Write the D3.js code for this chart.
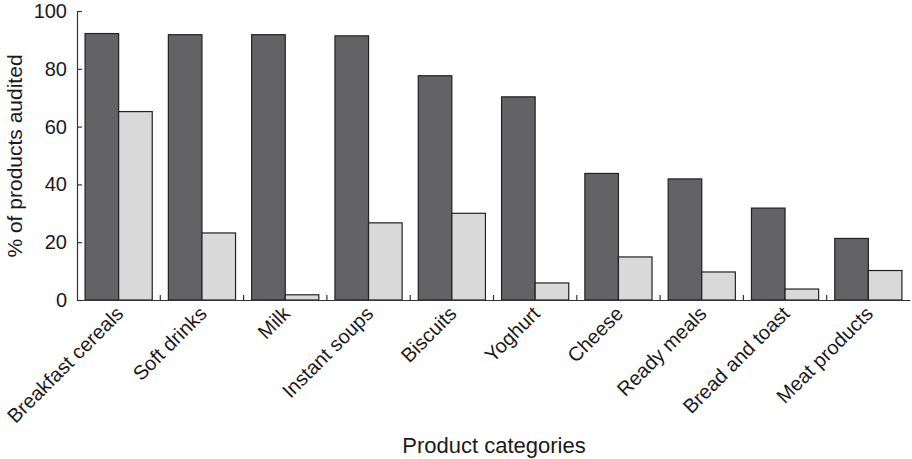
<!DOCTYPE html>
<html><head><meta charset="utf-8">
<script src="https://cdn.jsdelivr.net/npm/d3@7"></script>
<style>body{margin:0;background:#fff;} text{font-family:"Liberation Sans",Arial,sans-serif;fill:#1a1a1a;}</style>
</head><body><svg id="c" width="912" height="459"></svg>
<script>
const categories = ["Breakfast cereals","Soft drinks","Milk","Instant soups","Biscuits","Yoghurt","Cheese","Ready meals","Bread and toast","Meat products"];
const seriesA = [92.2, 91.8, 91.8, 91.4, 77.6, 70.3, 43.8, 41.9, 31.8, 21.3];
const seriesB = [65.2, 23.2, 1.8, 26.7, 30.0, 5.9, 14.9, 9.7, 3.8, 10.2];
const yTicks = [0, 20, 40, 60, 80, 100];

const svg = d3.select("#c");
const mLeft = 77, mRight = 910, mTop = 11, mBottom = 300;
const x = d3.scaleBand().domain(categories).range([mLeft, mRight]).paddingInner(0).paddingOuter(0);
const inner = d3.scaleBand().domain(["a","b"]).range([0, x.bandwidth()]).paddingOuter(0.24).paddingInner(0);
const y = d3.scaleLinear().domain([0, 100]).range([mBottom, mTop]);

const g = svg.append("g");
categories.forEach((c, i) => {
  [["a", seriesA[i], "#636366"], ["b", seriesB[i], "#d9d9d9"]].forEach(([k, v, col]) => {
    g.append("rect")
      .attr("x", x(c) + inner(k))
      .attr("y", y(v))
      .attr("width", inner.bandwidth())
      .attr("height", y(0) - y(v))
      .attr("fill", col)
      .attr("stroke", "#222")
      .attr("stroke-width", 1.2);
  });
});

// y axis
const ya = svg.append("g").attr("transform", `translate(${mLeft},0)`)
  .call(d3.axisLeft(y).tickValues(yTicks).tickSizeInner(-5).tickSizeOuter(0).tickPadding(10));
ya.select(".domain").attr("stroke", "#333").attr("stroke-width", 1.2);
ya.selectAll(".tick line").attr("stroke", "#333").attr("stroke-width", 1.2);
ya.selectAll("text").attr("font-size", 20).attr("font-family", "Liberation Sans, Arial, sans-serif").attr("fill", "#1a1a1a");

// x axis
const xa = svg.append("g").attr("transform", `translate(0,${mBottom})`)
  .call(d3.axisBottom(x).tickSize(0).tickSizeOuter(0).tickFormat(""));
xa.select(".domain").attr("stroke", "#333").attr("stroke-width", 1.2);
xa.selectAll(".tick").remove();
categories.slice(1).forEach(c => {
  xa.append("line").attr("x1", x(c)).attr("x2", x(c)).attr("y1", 0).attr("y2", -5)
    .attr("stroke", "#333").attr("stroke-width", 1.2);
});
categories.forEach(c => {
  svg.append("text")
    .attr("transform", `translate(${x(c) + x.bandwidth()/2 + 6},${mBottom + 15}) rotate(-45)`)
    .attr("text-anchor", "end")
    .attr("font-size", 20)
    .text(c);
});

svg.append("text")
  .attr("transform", `translate(22,156) rotate(-90)`)
  .attr("text-anchor", "middle")
  .attr("font-size", 21)
  .text("% of products audited");

svg.append("text")
  .attr("x", 494).attr("y", 453)
  .attr("text-anchor", "middle")
  .attr("font-size", 22)
  .text("Product categories");
</script></body></html>
